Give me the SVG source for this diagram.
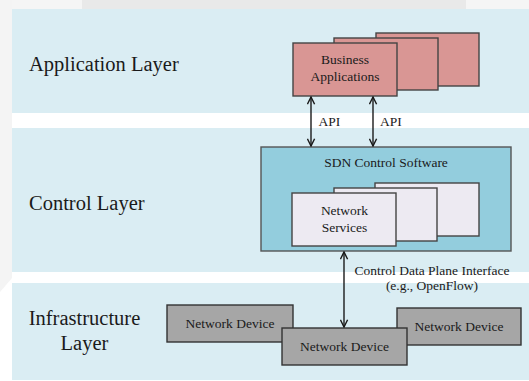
<svg xmlns="http://www.w3.org/2000/svg" width="529" height="381" viewBox="0 0 529 381">
  <style>
    .band { fill: #daedf3; }
    .layer { font-size: 20.5px; fill: #1a1a1a; }
    .lbl { font-size: 13.5px; fill: #1a1a1a; text-anchor: middle; }
    .app { fill: #d99694; stroke: #444; stroke-width: 1.4; }
    .ctrl { fill: #93cddd; stroke: #555; stroke-width: 1.4; }
    .svc { fill: #edeaf2; stroke: #444; stroke-width: 1.4; }
    .dev { fill: #a6a6a6; stroke: #333; stroke-width: 1.4; }
    .conn { stroke: #1a1a1a; stroke-width: 1.4; fill: none; }
  </style>
  <defs>
    <marker id="head" viewBox="0 0 10 10" refX="9" refY="5" markerWidth="9" markerHeight="9" markerUnits="userSpaceOnUse" orient="auto-start-reverse">
      <path d="M1,1 L9,5 L1,9" fill="none" stroke="#1a1a1a" stroke-width="1.6"/>
    </marker>
  </defs>

  <!-- page background -->
  <rect x="0" y="0" width="529" height="381" fill="#ffffff"/>
  <rect x="0" y="0" width="529" height="9" fill="#f5f5f5"/>
  <rect x="82" y="0" width="384" height="9" fill="#e9e9e9"/>
  <polygon points="0,0 12,0 12,278 0,292" fill="#f4f4f4"/>

  <g font-family="'Liberation Serif', 'Times New Roman', serif">
  <!-- layer bands -->
  <g id="application-layer">
    <rect class="band" x="12" y="9" width="517" height="104"/>
    <text class="layer" x="29" y="71">Application Layer</text>
  </g>
  <g id="control-layer">
    <rect class="band" x="12" y="128" width="517" height="144"/>
    <text class="layer" x="29" y="210">Control Layer</text>
  </g>
  <g id="infrastructure-layer">
    <rect class="band" x="12" y="283" width="517" height="97"/>
    <text class="layer" x="84.5" y="325" text-anchor="middle">Infrastructure</text>
    <text class="layer" x="84.5" y="350" text-anchor="middle">Layer</text>
  </g>

  <!-- business applications (stacked) -->
  <g id="business-applications">
    <rect class="app" x="376" y="33" width="103" height="53"/>
    <rect class="app" x="334" y="38" width="104" height="52"/>
    <rect class="app" x="293" y="43" width="104" height="53"/>
    <text class="lbl" x="345" y="64">Business</text>
    <text class="lbl" x="345" y="81">Applications</text>
  </g>

  <!-- SDN control software -->
  <g id="sdn-control-software">
    <rect class="ctrl" x="261" y="147" width="250" height="104"/>
    <text class="lbl" x="386" y="167">SDN Control Software</text>
  </g>

  <!-- network services (stacked) -->
  <g id="network-services">
    <rect class="svc" x="375" y="183" width="104" height="53"/>
    <rect class="svc" x="334" y="188" width="103" height="53"/>
    <rect class="svc" x="292" y="193" width="104" height="53"/>
    <text class="lbl" x="344.5" y="215">Network</text>
    <text class="lbl" x="344.5" y="232">Services</text>
  </g>

  <!-- network devices -->
  <g id="network-device-left">
    <rect class="dev" x="167" y="305" width="126" height="37"/>
    <text class="lbl" x="230" y="328">Network Device</text>
  </g>
  <g id="network-device-right">
    <rect class="dev" x="397" y="308" width="124" height="37"/>
    <text class="lbl" x="459" y="331">Network Device</text>
  </g>
  <g id="network-device-middle">
    <rect class="dev" x="282" y="328" width="125" height="37"/>
    <text class="lbl" x="344.5" y="351">Network Device</text>
  </g>

  <!-- connectors -->
  <g id="connectors">
    <line class="conn" x1="311" y1="97" x2="311" y2="146" marker-start="url(#head)" marker-end="url(#head)"/>
    <line class="conn" x1="373" y1="97" x2="373" y2="146" marker-start="url(#head)" marker-end="url(#head)"/>
    <line class="conn" x1="344" y1="252" x2="344" y2="327" marker-start="url(#head)" marker-end="url(#head)"/>
    <text class="lbl" x="329.5" y="126">API</text>
    <text class="lbl" x="391" y="126">API</text>
    <text class="lbl" x="432" y="275">Control Data Plane Interface</text>
    <text class="lbl" x="432" y="290">(e.g., OpenFlow)</text>
  </g>
  </g>
</svg>
